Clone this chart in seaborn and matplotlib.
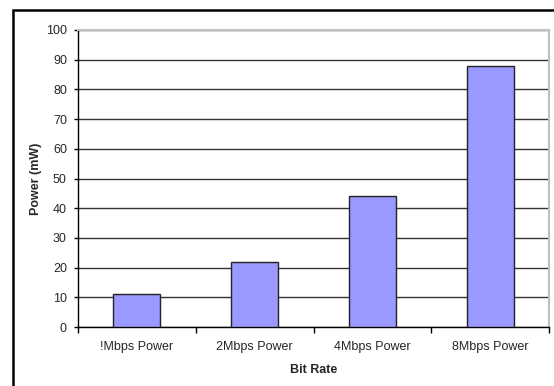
import matplotlib
matplotlib.use("Agg")
import matplotlib.pyplot as plt
import seaborn as sns
import pandas as pd
from matplotlib.patches import Rectangle

categories = ["!Mbps Power", "2Mbps Power", "4Mbps Power", "8Mbps Power"]
values = [11, 22, 44, 88]
y_ticks = [0, 10, 20, 30, 40, 50, 60, 70, 80, 90, 100]

df = pd.DataFrame({"cat": categories, "val": values})

sns.set_theme(style="white")
plt.rcParams["font.family"] = ["Liberation Sans", "DejaVu Sans"]

W, H = 554, 386
fig = plt.figure(figsize=(W / 100, H / 100), dpi=100)
fig.patch.set_facecolor("white")

# axes: left 78, right 549, top 30, bottom 327 (pixels)
L, R, T, B = 78, 549, 30, 327
ax = fig.add_axes([L / W, 1 - B / H, (R - L) / W, (B - T) / H])

sns.barplot(data=df, x="cat", y="val", ax=ax, color="#9999FF", saturation=1,
            width=0.4, edgecolor="#222222", linewidth=1.0, zorder=3)

ax.set_xlim(-0.5, 3.5)
ax.set_ylim(0, 100)
ax.set_yticks(y_ticks)
ax.set_yticklabels([str(v) for v in y_ticks], fontsize=9)
ax.set_xticks([0, 1, 2, 3])
ax.set_xticklabels(categories, fontsize=9)
ax.tick_params(axis="x", length=0, pad=10)
ax.tick_params(axis="y", length=3, width=1, color="black", direction="out", pad=5, left=True)
ax.set_xticks([-0.5, 0.5, 1.5, 2.5, 3.5], minor=True)
ax.tick_params(axis="x", which="minor", length=4, width=1, color="black", direction="out", bottom=True)

ax.yaxis.grid(True, color="#333333", linewidth=1, zorder=0)
ax.set_axisbelow(True)

for s in ["top", "right"]:
    ax.spines[s].set_color("#C0C0C0")
    ax.spines[s].set_linewidth(1.5)
ax.spines["left"].set_color("black")
ax.spines["left"].set_linewidth(1)
ax.spines["bottom"].set_color("black")
ax.spines["bottom"].set_linewidth(1)

ax.set_xlabel("Bit Rate", fontsize=9, fontweight="bold", labelpad=8)
ax.set_ylabel("Power (mW)", fontsize=9, fontweight="bold", labelpad=3)

# outer chart border
fig.patches.append(Rectangle((13 / W, -0.05), 1.2, 1 - 10 / H + 0.05,
                             transform=fig.transFigure, fill=False,
                             edgecolor="black", linewidth=1.8))

fig.savefig("out.png", dpi=100)
